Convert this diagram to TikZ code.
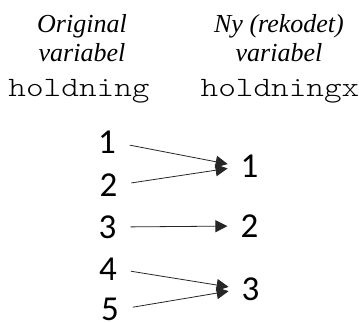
\documentclass[tikz,border=0pt]{standalone}
\usepackage{fontspec}
\setmonofont[FakeStretch=1.2]{Latin Modern Mono Light}
\newfontfamily\digitfont{Carlito}
\newfontfamily\headfont{Liberation Serif}
\usetikzlibrary{arrows.meta}
\begin{document}
\begin{tikzpicture}[x=1pt,y=-1pt,
	head/.style={anchor=south,inner sep=0pt,align=center,font=\fontsize{26}{29}\selectfont\headfont\itshape},
	varname/.style={anchor=base,inner sep=0pt,font=\fontsize{28}{30}\selectfont\ttfamily},
	digit/.style={inner sep=0pt,font=\fontsize{35}{38}\selectfont\digitfont},
	recode/.style={-{Triangle[length=12pt,width=12pt]},draw=black!85,line width=0.8pt,shorten <=14pt,shorten >=13pt}]
	\useasboundingbox (0,0) rectangle (359,323);
	\node[head] (H-O) at (82,62) {Original\\variabel};
	\node[head] (H-N) at (279,62) {Ny (rekodet)\\variabel};
	\node[varname] (V-O) at (79,97) {holdning};
	\node[varname] (V-N) at (280,97) {holdningx};
	  \foreach \x/\y [count=\i] in {107/142.5,108.5/185,107.5/227,108/269,110/309.5}{%
		\node[digit] (O-\i) at (\x,\y) {\i};
	  }
	  \foreach \x/\y [count=\i] in {249.5/166.5,249.5/226,250.5/289}{%
		\node[digit] (R-\i) at (\x,\y) {\i};
	  }
	  \foreach \a/\b in {1/1,2/1,3/2,4/3,5/3}{%
		\path (O-\a.east) edge[recode] (R-\b.west);
	  }
	\end{tikzpicture}
\end{document}
